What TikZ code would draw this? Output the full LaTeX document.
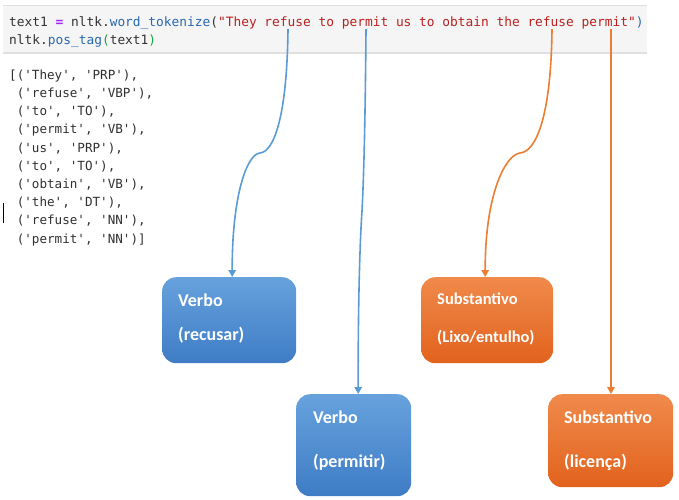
\documentclass[tikz,border=0pt]{standalone}
\usepackage{fontspec}
\setmainfont{Carlito}
\setmonofont{DejaVu Sans Mono}
\usetikzlibrary{arrows.meta,calc}
\definecolor{codebg}{HTML}{F5F5F5}
\definecolor{codeborder}{HTML}{E0E0E0}
\definecolor{codetext}{HTML}{333333}
\definecolor{eqpurple}{HTML}{AA22FF}
\definecolor{fnblue}{HTML}{2A68B0}
\definecolor{strred}{HTML}{BA2121}
\definecolor{pgreen}{HTML}{1E9E3A}
\definecolor{outtext}{HTML}{303030}
\definecolor{bluetop}{HTML}{67A2DD}
\definecolor{bluebot}{HTML}{3E7CC5}
\definecolor{orgtop}{HTML}{F08A4B}
\definecolor{orgbot}{HTML}{E2621D}
\definecolor{blueline}{HTML}{5B9BD5}
\definecolor{orgline}{HTML}{ED7D31}
\tikzset{
  code/.style={inner sep=0pt, text=codetext, font=\ttfamily\fontsize{12.85}{14}\selectfont},
  outline/.style={inner sep=0pt, anchor=base west, text=outtext, font=\ttfamily\fontsize{12.6}{14}\selectfont},
  bluebox/.style={rounded corners=14pt, inner sep=0pt, anchor=north west, top color=bluetop, bottom color=bluebot, draw=none},
  orgbox/.style={rounded corners=14pt, inner sep=0pt, anchor=north west, top color=orgtop, bottom color=orgbot, draw=none},
  boxtext/.style={inner sep=0pt, anchor=west, text=white, font=\bfseries\fontsize{18}{20}\selectfont},
  boxtextsmall/.style={inner sep=0pt, anchor=west, text=white, font=\bfseries\fontsize{16.5}{18}\selectfont},
  blueconn/.style={draw=blueline, line width=1.6pt, -{Triangle[length=7pt,width=7.5pt]}},
  orgconn/.style={draw=orgline, line width=1.6pt, -{Triangle[length=7pt,width=7.5pt]}},
}
\begin{document}
\begin{tikzpicture}[x=1pt,y=-1pt]
\useasboundingbox (0,0) rectangle (679,499);
% code cell
\fill[codebg] (3,5) rectangle (647,53);
\draw[codeborder, line width=0.8pt] (3,5) -- (647,5);
\draw[codeborder, line width=1.6pt] (3,53) -- (647,53);
\node[code, anchor=base west] (c1) at (9,26) {text1 {\color{eqpurple}\bfseries =} nltk.{\color{fnblue}word\_tokenize}({\color{strred}"They refuse to permit us to obtain the refuse permit"}{\color{fnblue})}};
\node[code, anchor=base west] (c2) at (9,44.5) {nltk.{\color{fnblue}pos\_tag}{\color{pgreen}(}text1{\color{pgreen})}};
% output
\node[outline] (o1) at (9,79.3) {[('They', 'PRP'),};
\node[outline] (o2) at (16.6,97.5) {('refuse', 'VBP'),};
\node[outline] (o3) at (16.6,115.7) {('to', 'TO'),};
\node[outline] (o4) at (16.6,133.9) {('permit', 'VB'),};
\node[outline] (o5) at (16.6,152.1) {('us', 'PRP'),};
\node[outline] (o6) at (16.6,170.3) {('to', 'TO'),};
\node[outline] (o7) at (16.6,188.5) {('obtain', 'VB'),};
\node[outline] (o8) at (16.6,206.7) {('the', 'DT'),};
\node[outline] (o9) at (16.6,224.9) {('refuse', 'NN'),};
\node[outline] (o10) at (16.6,243.1) {('permit', 'NN')]};
% cursor
\draw[black, line width=0.9pt] (3.5,203) -- (3.5,223);
% boxes
\node[bluebox, minimum width=134pt, minimum height=86pt] (b1) at (162,277) {};
\node[bluebox, minimum width=115pt, minimum height=102pt] (b2) at (296,394) {};
\node[orgbox, minimum width=132pt, minimum height=86pt] (b3) at (421,277) {};
\node[orgbox, minimum width=125pt, minimum height=93pt] (b4) at (548,394) {};
% box texts
\node[boxtext] (t1a) at (178,300) {Verbo};
\node[boxtext] (t1b) at (178,335) {(recusar)};
\node[boxtext] (t2a) at (313,417) {Verbo};
\node[boxtext] (t2b) at (313,462) {(permitir)};
\node[boxtextsmall] (t3a) at (437,299) {Substantivo};
\node[boxtextsmall] (t3b) at (437,338) {(Lixo/entulho)};
\node[boxtext] (t4a) at (564,417) {Substantivo};
\node[boxtext] (t4b) at (564,462) {(licença)};
% connector start points
\coordinate (w1) at (288,29);
\coordinate (w2) at (366,29);
\coordinate (w3) at (552,29);
\coordinate (w4) at (611,29);
% connectors
\draw[blueconn] (w1) .. controls (287,120) and (273,152) .. (260,153) .. controls (247,154) and (232,195) .. ([xshift=3pt]b1.north);
\draw[blueconn] (w2) .. controls (365,150) and (363,190) .. (362,211) .. controls (360,240) and (358,300) .. ([xshift=4.5pt]b2.north);
\draw[orgconn] (w3) .. controls (551,120) and (535,152) .. (520,153) .. controls (505,155) and (485,195) .. ([xshift=-2pt]b3.north);
\draw[orgconn] (w4) -- (w4 |- b4.north);
\end{tikzpicture}
\end{document}
